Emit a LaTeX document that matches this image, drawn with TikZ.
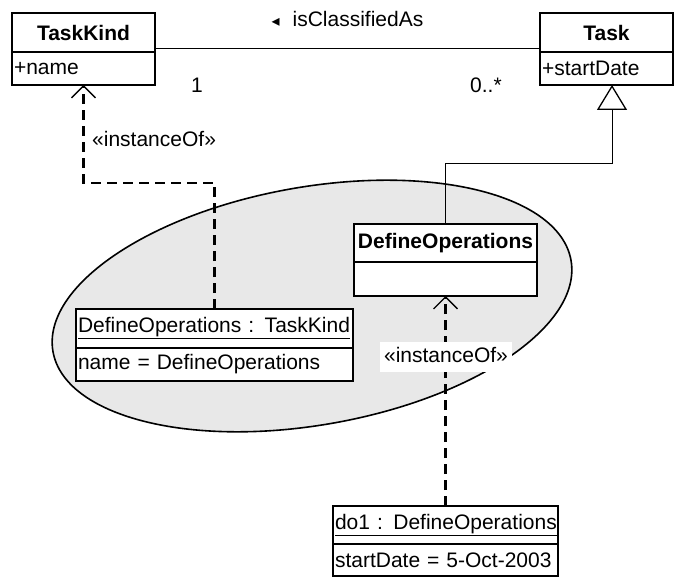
\documentclass[tikz,border=0pt]{standalone}
\usepackage{fontspec}
\setmainfont{Liberation Sans}
\newfontfamily\symfont{DejaVu Sans}
\usetikzlibrary{positioning}
\usetikzlibrary{arrows.meta}
\definecolor{ellgray}{HTML}{E8E8E8}
\newcommand{\dgmfont}{\fontsize{21}{25}\selectfont}
\newcommand{\groupellipse}[3]% center, xdim, ydim
{(#1) ellipse (#2 and #3)
}
\tikzset{
	head/.style={draw, line width=2.2pt, fill=white, anchor=north west, inner xsep=2pt, inner ysep=0pt, outer sep=0pt, minimum height=39pt, text width=#1, align=center, font=\dgmfont\bfseries},
	objhead/.style={head=#1, align=left, font=\dgmfont},
	slot/.style={draw, line width=2.2pt, fill=white, inner xsep=2pt, inner ysep=0pt, outer sep=0pt, minimum height=33pt, text width=#1, align=left, font=\dgmfont},
	dep/.style={line width=2.4pt, dash pattern=on 10pt off 6pt, -{Straight Barb[length=12pt,width=24pt,line width=1.3pt]}},
	gen/.style={line width=1pt, -{Triangle[open,length=25pt,width=30pt,line width=1.3pt]}},
	lbl/.style={inner sep=0pt, anchor=base west, font=\dgmfont},
}
\begin{document}
\begin{tikzpicture}[x=1pt, y=-1pt, font=\dgmfont]
	\useasboundingbox (0,0) rectangle (674,577);
	\draw[fill=ellgray, line width=1.6pt, rotate around={10:(312,306)}] \groupellipse{312,306}{263}{119};
	\node[head=139pt] (tk) at (12,13) {TaskKind};%class
	\node[slot=139pt, below=0pt of tk] (tka) {+name};
	\node[head=129pt] (task) at (540,13) {Task};%class
	\node[slot=129pt, below=0pt of task] (taska) {+startDate};
	\node[head=179pt, minimum height=38pt] (dop) at (354,224) {DefineOperations};%subclass
	\node[slot=179pt, minimum height=34pt, below=0pt of dop] (dopa) {};
	\node[objhead=273pt] (ob) at (76,309) {\underline{DefineOperations : TaskKind}};%object
	\node[slot=273pt, below=0pt of ob] (oba) {name = DefineOperations};
	\node[objhead=221pt, minimum height=38pt] (doone) at (333,506) {\underline{do1 : DefineOperations}};%object
	\node[slot=221pt, minimum height=32pt, below=0pt of doone] (doonea) {startDate = 5-Oct-2003};
	\draw[line width=1pt] ([yshift=3pt]tk.south east) -- node[anchor=base, yshift=22pt] (assoc) {{\symfont\fontsize{16}{16}\selectfont ◂}\hspace{13pt}isClassifiedAs} ([yshift=3pt]task.south west);
	\node[lbl, anchor=base] (m1) at (197,93) {1};
	\node[lbl] (m2) at (470,93) {0..*};
	\draw[gen] (dop.north) -- ++(0,-60) -| ([xshift=5.5pt]taska.south);
	\draw[dep] (ob.north) -- ++(0,-126) -| (tka.south);
	\node[lbl] (io1) at (92,147) {«instanceOf»};
	\draw[dep] (doone.north) -- (dopa.south);
	\node[fill=white, inner xsep=4pt, inner ysep=5pt, text depth=5pt, anchor=base] (io2) at (446,362) {«instanceOf»};
\end{tikzpicture}
\end{document}
